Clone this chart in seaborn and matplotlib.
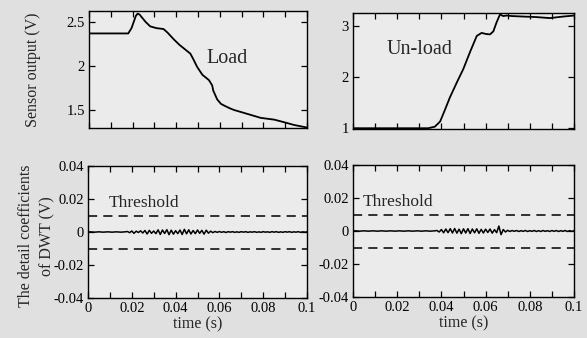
import numpy as np
import pandas as pd
import matplotlib
matplotlib.use("Agg")
import matplotlib.pyplot as plt
import seaborn as sns
from matplotlib.ticker import MultipleLocator, FixedLocator, FixedFormatter

# ---------------- data ----------------
load_t = [0, 0.018, 0.0195, 0.0205, 0.0215, 0.0223, 0.0232, 0.024, 0.026, 0.0281, 0.031,
          0.0342, 0.036, 0.039, 0.0415, 0.0435, 0.0465, 0.048, 0.0496, 0.052, 0.055,
          0.0565, 0.057, 0.0588, 0.0605, 0.062, 0.0645, 0.0665, 0.072, 0.0788, 0.085,
          0.0896, 0.094, 0.097, 0.1]
load_v = [2.37, 2.37, 2.43, 2.5, 2.57, 2.595, 2.585, 2.56, 2.5, 2.45, 2.43,
          2.42, 2.38, 2.3, 2.24, 2.2, 2.14, 2.07, 1.99, 1.9, 1.84,
          1.78, 1.72, 1.62, 1.57, 1.55, 1.52, 1.5, 1.46, 1.41, 1.39,
          1.36, 1.33, 1.315, 1.30]

unload_t = [0, 0.034, 0.037, 0.0394, 0.0415, 0.0439, 0.047, 0.0499, 0.053, 0.056,
            0.0582, 0.060, 0.062, 0.0635, 0.065, 0.0665, 0.068, 0.0695, 0.072,
            0.0771, 0.083, 0.0891, 0.095, 0.1]
unload_v = [1.0, 1.0, 1.03, 1.13, 1.35, 1.61, 1.9, 2.16, 2.5, 2.81,
            2.87, 2.85, 2.84, 2.90, 3.08, 3.23, 3.20, 3.21, 3.20,
            3.19, 3.18, 3.16, 3.19, 3.21]

dwt_t = list(np.round(np.arange(0, 101) * 0.001, 4))

dwt_load = ([0.0, 0.0001, 0.0, -0.0001, 0.0, 0.0001, 0.0, -0.0001, 0.0, 0.0001,
             0.0, -0.0001, 0.0, 0.0001, 0.0, -0.0001, 0.0, 0.0001]
            + [0.0003, -0.0004, 0.0006, -0.0008, 0.0005, -0.0003, 0.0007, -0.0006]
            + [0.0009, -0.0012, 0.0010, -0.0008, 0.0006, -0.0010, 0.0013, -0.0015, 0.0012, -0.0009]
            + [0.0014, -0.0016, 0.0011, -0.0013, 0.0008, -0.0010, 0.0012, -0.0015, 0.0016, -0.0011]
            + [0.0013, -0.0012, 0.0009, -0.0010, 0.0012, -0.0008, 0.0010, -0.0013, 0.0011, -0.0007]
            + [0.0005, -0.0004, 0.0003, -0.0002, 0.0003, -0.0002, 0.0002, -0.0003, 0.0002, -0.0001]
            + [0.0002, -0.0002, 0.0001, -0.0002, 0.0002, -0.0001, 0.0002, -0.0002, 0.0001, -0.0001,
               0.0002, -0.0002, 0.0001, -0.0002, 0.0002, -0.0001, 0.0001, -0.0002, 0.0002, -0.0001,
               0.0002, -0.0002, 0.0001, -0.0002, 0.0002, -0.0001, 0.0002, -0.0002, 0.0001, -0.0001,
               0.0002, -0.0002, 0.0001, -0.0001, 0.0001])

dwt_unload = ([0.0, 0.0001, 0.0, -0.0001, 0.0, 0.0001, 0.0, -0.0001, 0.0, 0.0001,
               0.0, -0.0001, 0.0, 0.0001, 0.0, -0.0001, 0.0, 0.0001, 0.0, -0.0001,
               0.0, 0.0001, 0.0, -0.0001, 0.0, 0.0001, 0.0, -0.0001, 0.0, 0.0001,
               0.0, -0.0001, 0.0, 0.0001, 0.0, -0.0001, 0.0, 0.0001]
              + [0.0003, -0.0006, 0.0009, -0.0011, 0.0012, -0.0010, 0.0014, -0.0012]
              + [0.0015, -0.0013, 0.0011, -0.0016, 0.0013, -0.0012, 0.0014, -0.0015, 0.0012, -0.0011]
              + [0.0013, -0.0014, 0.0010, -0.0012, 0.0011, -0.0009, 0.0012, -0.0013, 0.0008, -0.0010]
              + [0.0030, -0.0022, 0.0009, -0.0006, 0.0004]
              + [-0.0003, 0.0003, -0.0002, 0.0003, -0.0003, 0.0002, -0.0002, 0.0003, -0.0003, 0.0002,
                 -0.0002, 0.0003, -0.0003, 0.0002, -0.0003, 0.0003, -0.0002, 0.0002, -0.0003, 0.0003,
                 -0.0002, 0.0003, -0.0003, 0.0002, -0.0002, 0.0003, -0.0003, 0.0002, -0.0002, 0.0002])

threshold = 0.01
x_ticks = [0, 0.02, 0.04, 0.06, 0.08, 0.1]
x_ticklabels = ["0", "0.02", "0.04", "0.06", "0.08", "0.1"]
load_yticks = [1.5, 2, 2.5]
load_yticklabels = ["1.5", "2", "2.5"]
unload_yticks = [1, 2, 3]
unload_yticklabels = ["1", "2", "3"]
dwt_yticks = [-0.04, -0.02, 0, 0.02, 0.04]
dwt_yticklabels = ["-0.04", "-0.02", "0", "0.02", "0.04"]

# ---------------- style ----------------
sns.set_theme(style="ticks")
plt.rcParams["font.family"] = ["Liberation Serif", "DejaVu Serif"]
plt.rcParams["axes.unicode_minus"] = False

W, H = 587, 338
fig = plt.figure(figsize=(W / 100, H / 100), dpi=100, facecolor="#e0e0e0")


def box(x0, y0, x1, y1):
    return [x0 / W, 1 - y1 / H, (x1 - x0) / W, (y1 - y0) / H]


ax_tl = fig.add_axes(box(89, 11, 307, 128))
ax_tr = fig.add_axes(box(353, 13, 574, 129))
ax_bl = fig.add_axes(box(88, 166, 307, 298))
ax_br = fig.add_axes(box(353, 165, 574, 297))

for ax in (ax_tl, ax_tr, ax_bl, ax_br):
    ax.set_facecolor("#ebebeb")
    for s in ax.spines.values():
        s.set_visible(True)
        s.set_color("black")
        s.set_linewidth(1.0)
    ax.set_xlim(0, 0.1)
    ax.xaxis.set_major_locator(FixedLocator(x_ticks))
    ax.xaxis.set_minor_locator(MultipleLocator(0.01))
    ax.tick_params(which="both", direction="in", top=True, right=True,
                   length=4, width=0.9, colors="black", labelsize=10.5, pad=3)

# top-left: load
df_load = pd.DataFrame({"t": load_t, "v": load_v})
sns.lineplot(data=df_load, x="t", y="v", ax=ax_tl, color="black", lw=1.3,
             sort=False, estimator=None)
ax_tl.set_ylim(1.295, 2.625)
ax_tl.yaxis.set_major_locator(FixedLocator(load_yticks))
ax_tl.yaxis.set_major_formatter(FixedFormatter(load_yticklabels))
ax_tl.set_xticklabels([])
ax_tl.set_xlabel("")
ax_tl.set_ylabel("Sensor output (V)", fontsize=11.5)
ax_tl.yaxis.set_label_coords(-0.222, 0.50)
ax_tl.text(0.054, 2.09, "Load", fontsize=14.5, va="center", ha="left")

# top-right: unload
df_unload = pd.DataFrame({"t": unload_t, "v": unload_v})
sns.lineplot(data=df_unload, x="t", y="v", ax=ax_tr, color="black", lw=1.3,
             sort=False, estimator=None)
ax_tr.set_ylim(0.985, 3.26)
ax_tr.yaxis.set_major_locator(FixedLocator(unload_yticks))
ax_tr.yaxis.set_major_formatter(FixedFormatter(unload_yticklabels))
ax_tr.set_xticklabels([])
ax_tr.set_xlabel("")
ax_tr.set_ylabel("")
ax_tr.text(0.0154, 2.55, "Un-load", fontsize=14.5, va="center", ha="left")

# bottom panels: DWT
for ax, vals, lab_x in ((ax_bl, dwt_load, 0.0096), (ax_br, dwt_unload, 0.0045)):
    df = pd.DataFrame({"t": dwt_t, "v": vals})
    sns.lineplot(data=df, x="t", y="v", ax=ax, color="black", lw=1.1,
                 sort=False, estimator=None)
    ax.axhline(threshold, color="black", lw=1.1, ls=(0, (6, 4)))
    ax.axhline(-threshold, color="black", lw=1.1, ls=(0, (6, 4)))
    ax.set_ylim(-0.04, 0.04)
    ax.yaxis.set_major_locator(FixedLocator(dwt_yticks))
    ax.yaxis.set_major_formatter(FixedFormatter(dwt_yticklabels))
    ax.xaxis.set_major_formatter(FixedFormatter(x_ticklabels))
    ax.set_xlabel("time (s)", fontsize=11.5, labelpad=1)
    ax.set_ylabel("")
    ax.text(lab_x, 0.0175, "Threshold", fontsize=12.5, va="center", ha="left")

ax_bl.set_ylabel("The detail coefficients\nof DWT (V)", fontsize=11.5,
                 linespacing=1.4)
ax_bl.yaxis.set_label_coords(-0.15, 0.47)

fig.savefig("out.png", dpi=100, facecolor=fig.get_facecolor())
